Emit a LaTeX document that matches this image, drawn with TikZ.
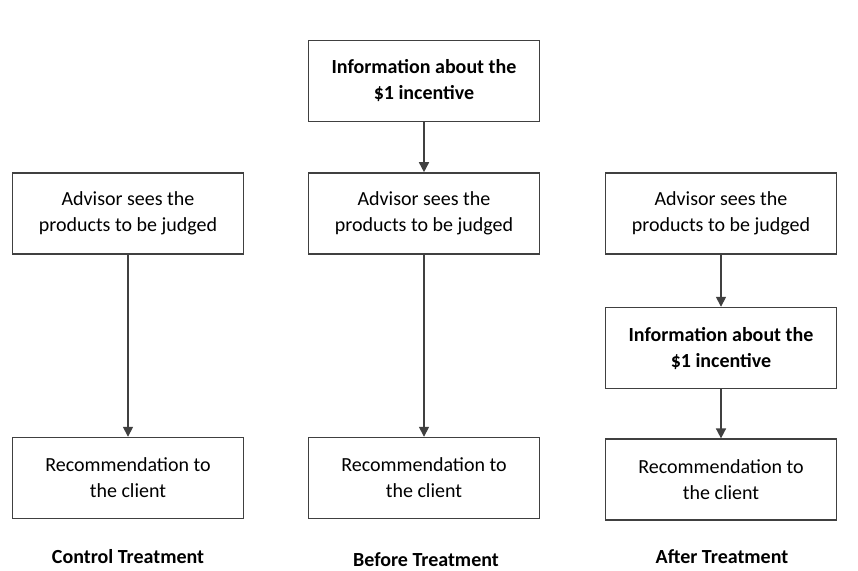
\documentclass[tikz,border=0pt]{standalone}
\usepackage{fontspec}
\setmainfont{Carlito}
\usetikzlibrary{arrows.meta,positioning}

\begin{document}
\begin{tikzpicture}[x=0.5pt, y=-0.5pt,
    node distance=25pt,
    stage/.style={rectangle, draw=black!75, line width=0.8pt, fill=white,
                  align=center, minimum width=115.5pt, minimum height=40.5pt,
                  inner sep=2pt, font=\fontsize{10}{13}\selectfont},
    incentive/.style={stage, font=\fontsize{10}{13}\selectfont\bfseries},
    treatname/.style={font=\fontsize{10}{12}\selectfont\bfseries},
    arrow/.style={-{Triangle[length=5pt, width=5pt]}, line width=0.8pt, black!75}
]
\useasboundingbox (0,0) rectangle (858,571);

% control treatment
\node[stage] (ctrlsee) at (128,213.5) {Advisor sees the\\products to be judged};
\node[stage, below=91pt of ctrlsee] (ctrlrec) {Recommendation to\\the client};

% before treatment
\node[stage] (befsee) at (424,213.5) {Advisor sees the\\products to be judged};
\node[incentive, above=of befsee] (befinfo) {Information about the\\\$1 incentive};
\node[stage, below=91pt of befsee] (befrec) {Recommendation to\\the client};

% after treatment
\node[stage] (aftsee) at (721,213.5) {Advisor sees the\\products to be judged};
\node[incentive, below=26pt of aftsee] (aftinfo) {Information about the\\\$1 incentive};
\node[stage, below=24.5pt of aftinfo] (aftrec) {Recommendation to\\the client};

\draw[arrow] (ctrlsee) -- (ctrlrec);
\draw[arrow] (befinfo) -- (befsee);
\draw[arrow] (befsee) -- (befrec);
\draw[arrow] (aftsee) -- (aftinfo);
\draw[arrow] (aftinfo) -- (aftrec);

\node[treatname] (ctrlname) at (128,557) {Control Treatment};
\node[treatname] (befname) at (426,560) {Before Treatment};
\node[treatname] (aftname) at (722,557) {After Treatment};

\end{tikzpicture}
\end{document}
